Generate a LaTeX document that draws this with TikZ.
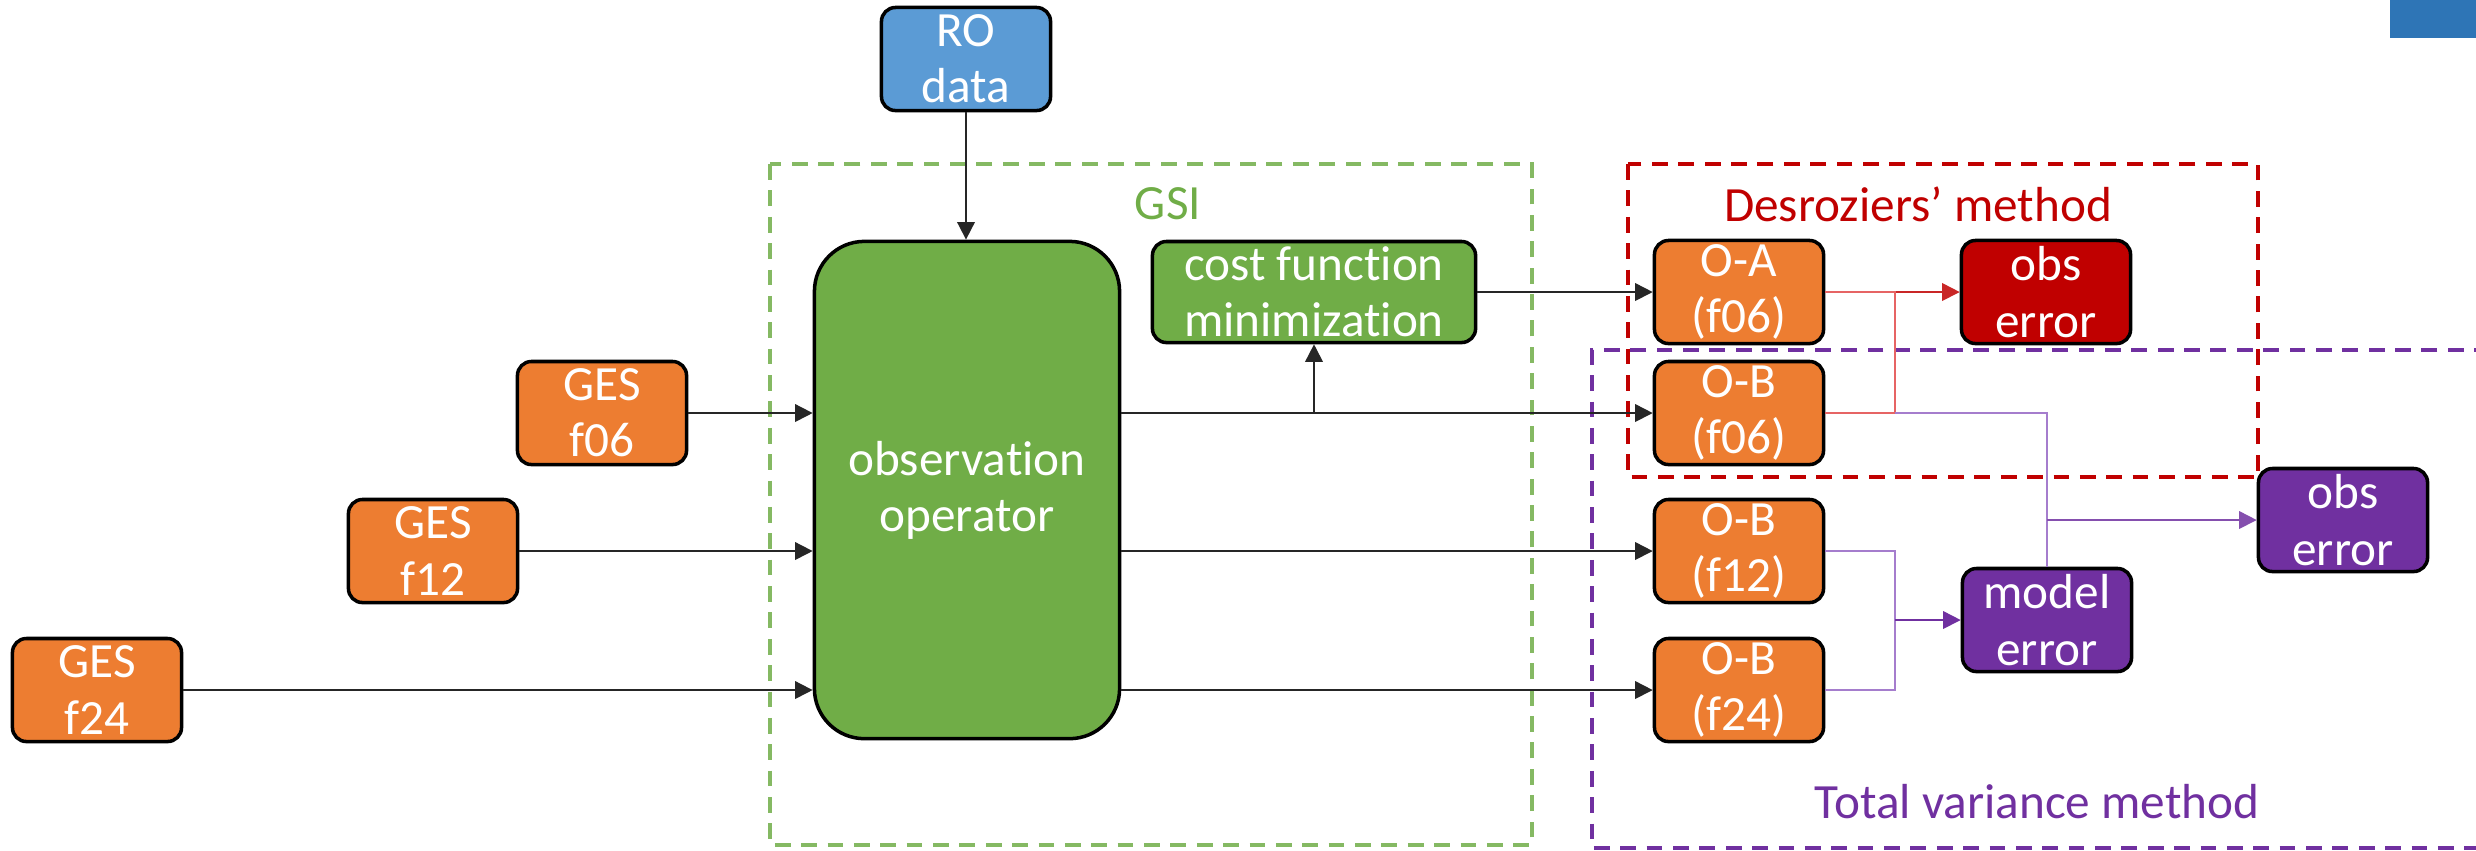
\documentclass[tikz,border=0pt]{standalone}
\usepackage{fontspec}
\setmainfont[Ligatures=NoCommon]{Carlito}
\usetikzlibrary{arrows.meta,positioning}
\definecolor{boxOrange}{RGB}{237,125,49}
\definecolor{boxGreen}{RGB}{112,173,71}
\definecolor{boxBlue}{RGB}{91,155,213}
\definecolor{boxRed}{RGB}{192,0,0}
\definecolor{boxPurple}{RGB}{112,48,160}
\definecolor{lineRed}{RGB}{230,100,100}
\definecolor{linePurple}{RGB}{165,125,205}
\definecolor{cornerBlue}{RGB}{46,117,182}
\tikzset{
  blk/.style={draw=black,line width=1pt,rounded corners=.14cm,text=white,align=center,
    minimum width=1.69cm,minimum height=1.03cm,inner sep=0pt,
    font=\fontsize{14}{16}\selectfont},
  ges/.style={blk,fill=boxOrange},
  frame/.style={line width=1.4pt,dash pattern=on 4.5pt off 3pt},
  lbl/.style={font=\fontsize{14}{16}\selectfont,inner sep=0pt},
  conn/.style={draw=black!85,line width=.5pt,-{Triangle[length=5pt,width=5pt]}}
}
\begin{document}
\begin{tikzpicture}[x=0.01cm,y=-0.01cm]
\useasboundingbox (0,0) rectangle (2476,850);
\fill[cornerBlue] (2390,0) rectangle (2476,38);
% frames
\draw[frame,boxGreen!85] (770,164) rectangle (1532,845);
\draw[frame,boxRed] (1628,164) rectangle (2258,477);
\draw[frame,boxPurple] (2490,350) -- (1592,350) -- (1592,848) -- (2490,848);
\node[lbl,text=boxGreen] (gsiLbl) at (1168,204) {GSI};
\node[lbl,text=boxRed] (desLbl) at (1918,204) {Desroziers’ method};
\node[lbl,text=boxPurple] (tvLbl) at (2037,802) {Total variance method};
% boxes
\node[blk,fill=boxBlue] (ro) at (966,59) {RO\\data};
\node[blk,fill=boxGreen,rounded corners=.5cm,minimum width=3.05cm,minimum height=4.97cm] (obsop) at (967,490) {observation\\operator};
\node[blk,fill=boxGreen,minimum width=3.23cm,minimum height=1.01cm] (cost) at (1314,292) {cost function\\minimization};
\node[ges] (gesA) at (602,413) {GES\\f06};
\node[ges] (gesB) at (433,551) {GES\\f12};
\node[ges] (gesC) at (97,690) {GES\\f24};
\node[ges] (oa) at (1739,292) {O-A\\(f06)};
\node[ges] (obA) at (1739,413) {O-B\\(f06)};
\node[ges] (obB) at (1739,551) {O-B\\(f12)};
\node[ges] (obC) at (1739,690) {O-B\\(f24)};
\node[blk,fill=boxRed] (obsR) at (2046,292) {obs\\error};
\node[blk,fill=boxPurple] (model) at (2047,620) {model\\error};
\node[blk,fill=boxPurple] (obsP) at (2343,520) {obs\\error};
% black arrows
\draw[conn] (ro.south) -- (ro.south |- obsop.north);
\draw[conn] (gesA.east) -- (gesA -| obsop.west);
\draw[conn] (gesB.east) -- (gesB -| obsop.west);
\draw[conn] (gesC.east) -- (gesC -| obsop.west);
\draw[conn] (obsop.east |- obA) -| (cost.south);
\draw[conn] (cost.south |- obA) -- (obA.west);
\draw[conn] (cost.east) -- (oa.west);
\draw[conn] (obsop.east |- obB) -- (obB.west);
\draw[conn] (obsop.east |- obC) -- (obC.west);
% Desroziers
\coordinate (jr) at (1895,413);
\coordinate (jl) at (1895,620);
\draw[conn,draw=boxRed!85,fill=boxRed] (oa.east) -- (obsR.west);
\draw[lineRed,line width=.5pt] (obA.east) -- (jr) |- (oa.east);
% total variance
\draw[linePurple,line width=.5pt] (jr) -| (model.north);
\draw[conn,draw=boxPurple!85,fill=boxPurple] (model.north |- obsP) -- (obsP.west);
\draw[linePurple,line width=.5pt] (obB.east) -| (jl) |- (obC.east);
\draw[conn,draw=boxPurple,fill=boxPurple] (jl) -- (model.west);
\end{tikzpicture}
\end{document}
